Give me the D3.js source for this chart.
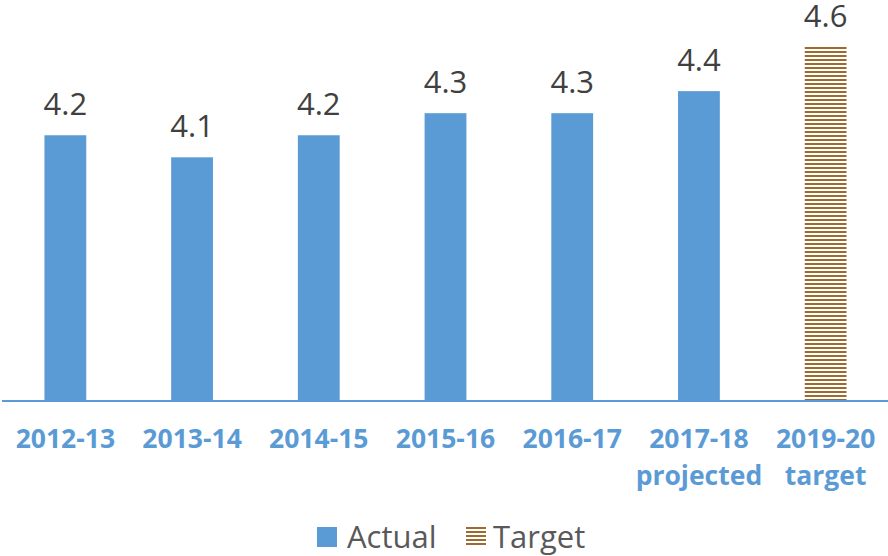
<!DOCTYPE html>
<html><head><meta charset="utf-8">
<script src="https://cdn.jsdelivr.net/npm/d3@7"></script>
<style>body{margin:0;background:#fff}svg{display:block}</style>
</head><body>
<svg id="c" width="888" height="556"></svg>
<script>
const categories = [["2012-13"],["2013-14"],["2014-15"],["2015-16"],["2016-17"],["2017-18","projected"],["2019-20","target"]];
const values = [4.2, 4.1, 4.2, 4.3, 4.3, 4.4, 4.6];
const kinds = ["Actual","Actual","Actual","Actual","Actual","Actual","Target"];
const legendItems = ["Actual","Target"];

const blue = "#5b9bd5", brown = "#9e6a30";
const svg = d3.select("#c");
const defs = svg.append("defs");
const pat = defs.append("pattern").attr("id","stripes").attr("patternUnits","userSpaceOnUse")
  .attr("width",8).attr("height",4).attr("y",47);
pat.append("rect").attr("width",8).attr("height",2).attr("fill",brown);

const x = d3.scaleBand().domain(d3.range(categories.length)).range([2, 889]).paddingInner(0.67).paddingOuter(0.335);
const y = d3.scaleLinear().domain([3, 4.6]).range([400, 47]);

svg.selectAll("rect.bar").data(values).enter().append("rect").attr("class","bar")
  .attr("x",(d,i)=>x(i)).attr("width",x.bandwidth())
  .attr("y",d=>y(d)).attr("height",d=>y(3)-y(d))
  .attr("fill",(d,i)=>kinds[i]==="Target"?"url(#stripes)":blue);

svg.selectAll("text.val").data(values).enter().append("text").attr("class","val")
  .attr("x",(d,i)=>x(i)+x.bandwidth()/2).attr("y",d=>y(d)-20)
  .attr("text-anchor","middle").attr("font-family","Open Sans").attr("font-size",31)
  .attr("fill","#404040").text(d=>d.toFixed(1));

svg.append("line").attr("x1",2).attr("x2",888).attr("y1",401).attr("y2",401)
  .attr("stroke",blue).attr("stroke-width",2);

const xl = svg.selectAll("text.cat").data(categories).enter().append("text").attr("class","cat")
  .attr("text-anchor","middle").attr("font-family","Open Sans").attr("font-weight","bold")
  .attr("font-size",26.5).attr("fill",blue);
xl.each(function(d,i){
  const t = d3.select(this);
  d.forEach((s,j)=>t.append("tspan").attr("x",x(i)+x.bandwidth()/2).attr("y",448+j*37).text(s));
});

const lg = svg.append("g");
lg.append("rect").attr("x",317).attr("y",527).attr("width",20).attr("height",20).attr("fill",blue);
lg.append("text").attr("x",347).attr("y",548).attr("font-family","Open Sans").attr("font-size",31).attr("fill","#595959").text(legendItems[0]);
const pat2 = defs.append("pattern").attr("id","stripes2").attr("patternUnits","userSpaceOnUse")
  .attr("width",8).attr("height",4).attr("y",527);
pat2.append("rect").attr("width",8).attr("height",2).attr("fill",brown);
lg.append("rect").attr("x",466).attr("y",527).attr("width",20).attr("height",20).attr("fill","url(#stripes2)");
lg.append("text").attr("x",493).attr("y",548).attr("font-family","Open Sans").attr("font-size",31).attr("fill","#595959").text(legendItems[1]);
</script>
</body></html>
